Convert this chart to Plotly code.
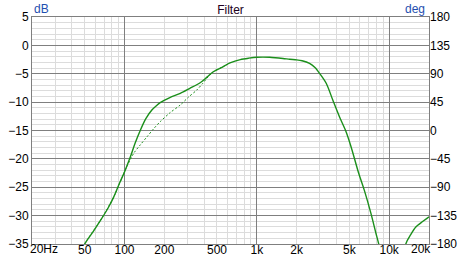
import plotly.graph_objects as go
import math

# ---- data ----
freq_solid = [45, 50, 58, 66, 75, 83, 92, 100, 111, 120, 132, 145, 161, 175, 186, 220, 264, 310,
              373, 420, 469, 540, 627, 750, 870, 1000, 1250, 1575, 1771, 2000, 2200, 2502, 2750,
              2977, 3344, 3750, 4210, 4724, 5152, 5877, 6486, 7281, 7943, 8318, 9000, 10000,
              10800, 11500, 12300, 13400, 14500, 15900, 18000, 20000]
mag_solid = [-37.5, -35.0, -32.8, -30.8, -28.7, -26.7, -24.2, -22.3, -19.6, -17.3, -14.9, -12.9,
             -11.4, -10.6, -10.1, -9.2, -8.45, -7.6, -6.58, -5.6, -4.64, -3.9, -3.1, -2.5, -2.25,
             -2.1, -2.1, -2.3, -2.45, -2.55, -2.7, -3.16, -3.9, -4.92, -6.68, -9.63, -12.57,
             -15.2, -17.85, -22.5, -25.5, -29.6, -33.1, -34.9, -39.0, -50.0, -60.0, -48.0,
             -40.0, -34.9, -33.4, -32.0, -31.0, -30.2]

freq_dashed = [45, 50, 66, 83, 93, 100, 105, 117.5, 132, 148, 166, 186, 220, 264, 305, 352, 390,
               419, 469, 540, 627]
mag_dashed = [-37.5, -35.0, -30.8, -26.7, -24.0, -22.3, -21.2, -19.0, -17.5, -16.1, -14.7, -13.45,
              -11.9, -10.5, -9.1, -7.86, -6.7, -5.8, -4.64, -3.9, -3.1]

x_tick_vals = [50, 100, 200, 500, 1000, 2000, 5000, 10000]
x_tick_text = ["50", "100", "200", "500", "1k", "2k", "5k", "10k"]
x_first_label = "20Hz"
x_last_label = "20k"
x_major_grid = [100, 1000, 10000]
x_minor_grid = [20, 30, 40, 50, 60, 70, 80, 90, 200, 300, 400, 500, 600, 700, 800, 900,
                2000, 3000, 4000, 5000, 6000, 7000, 8000, 9000, 20000]
db_ticks = [5, 0, -5, -10, -15, -20, -25, -30, -35]
deg_ticks = [180, 135, 90, 45, 0, -45, -90, -135, -180]

GREEN = "#1b8f1b"
MAJOR = "#7f7f7f"
MINOR = "#dcdcdc"
FONT = "Liberation Sans"

fig = go.Figure()
fig.add_trace(go.Scatter(x=freq_dashed, y=mag_dashed, mode="lines",
                         line=dict(color=GREEN, width=1, dash="2px,2px", shape="spline",
                                   smoothing=0.8), showlegend=False))
fig.add_trace(go.Scatter(x=freq_solid, y=mag_solid, mode="lines",
                         line=dict(color=GREEN, width=1.4, shape="spline", smoothing=0.8),
                         showlegend=False))
fig.add_trace(go.Scatter(x=[], y=[], xaxis="x2", yaxis="y2", showlegend=False))

xr = [math.log10(20), math.log10(20000)]
lbl_font = dict(family=FONT, size=12, color="black")
fig.update_layout(
    width=461, height=258,
    margin=dict(l=32, r=32, t=17, b=14, autoexpand=False),
    paper_bgcolor="white", plot_bgcolor="white",
    font=dict(family=FONT, size=12, color="black"),
    xaxis=dict(type="log", range=xr, tickmode="array", tickvals=x_tick_vals,
               ticktext=x_tick_text, showgrid=False, zeroline=False, ticks="",
               ticklabelstandoff=-5,
               automargin=False, showline=True, linecolor=MAJOR, mirror=True,
               minor=dict(tickmode="array", tickvals=x_minor_grid, showgrid=True,
                          gridcolor=MINOR, gridwidth=1, ticks="")),
    xaxis2=dict(type="log", range=xr, overlaying="x", tickmode="array",
                tickvals=x_major_grid, showticklabels=False, showgrid=True, automargin=False,
                gridcolor=MAJOR, gridwidth=1, zeroline=False, ticks=""),
    yaxis=dict(range=[-35, 5], tickmode="array", tickvals=db_ticks, showgrid=True,
               gridcolor=MAJOR, gridwidth=1, zeroline=False, ticks="", automargin=False,
               showline=True, linecolor=MAJOR, mirror=True,
               minor=dict(dtick=1, showgrid=True, gridcolor=MINOR, gridwidth=1, ticks="")),
    yaxis2=dict(range=[-180, 180], overlaying="y", side="right", tickmode="array",
                tickvals=deg_ticks, showgrid=False, zeroline=False, ticks="", automargin=False),
    title=dict(text="Filter", x=0.5, xref="paper", y=1 - 10 / 258, yref="container",
               xanchor="center", yanchor="middle", automargin=False,
               font=dict(family=FONT, size=12, color="#200020")),
    annotations=[
        dict(text="dB", x=0, y=1, xref="paper", yref="paper", xanchor="left", yanchor="bottom",
             showarrow=False, font=dict(family=FONT, size=12, color="#1f4fb0"), yshift=-1),
        dict(text="deg", x=0.995, y=1, xref="paper", yref="paper", xanchor="right",
             yanchor="bottom", showarrow=False, font=dict(family=FONT, size=12, color="#1f4fb0"),
             yshift=-1),
        dict(text=x_first_label, x=math.log10(20), y=0, xref="x", yref="paper", xanchor="left",
             yanchor="top", showarrow=False, font=lbl_font, xshift=-4, yshift=4),
        dict(text=x_last_label, x=math.log10(20000), y=0, xref="x", yref="paper",
             xanchor="right", yanchor="top", showarrow=False, font=lbl_font,
             xshift=4, yshift=4),
    ],
)

fig.write_html("out.html")
